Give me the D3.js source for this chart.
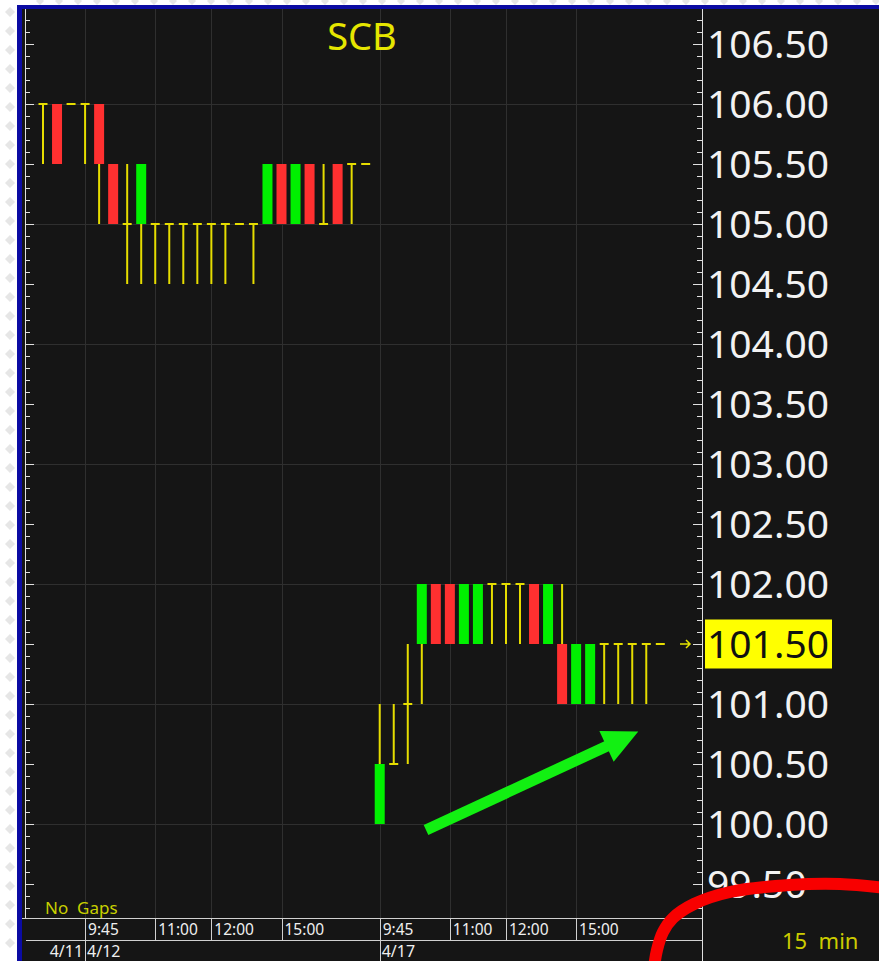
<!DOCTYPE html>
<html>
<head>
<meta charset="utf-8">
<script src="https://cdn.jsdelivr.net/npm/d3@7"></script>
<style>
html, body { margin: 0; padding: 0; background: #fff; }
svg { display: block; }
text { font-family: "Noto Sans", "Open Sans", sans-serif; }
</style>
</head>
<body>
<svg id="chart" width="879" height="961"></svg>
<script>
// sessions shown on the chart (15 min bars)
var days = ['4/11', '4/12', '4/17']
var times411 = ['16:00', '16:15', '16:30']
var times412 = ['9:45', '10:00', '10:15', '10:30', '10:45', '11:00', '11:15', '11:30', '11:45', '12:00', '12:15', '12:30',
    '14:30', '14:45', '15:00', '15:15', '15:30', '15:45', '16:00', '16:15', '16:30']
var times417 = ['9:45', '10:00', '10:15', '10:30', '10:45', '11:00', '11:15', '11:30', '11:45', '12:00', '12:15', '12:30',
    '14:30', '14:45', '15:00', '15:15', '15:30', '15:45', '16:00', '16:15', '16:30']
var timeLabels = ['9:45', '11:00', '12:00', '15:00']

var opens = [106, 106, 106, 106, 106, 105.5, 105, 105, 105, 105, 105, 105, 105, 105, 105, 105, 105, 105.5, 105, 105.5, 105, 105.5, 105.5, 105.5,
    100, 100.5, 101, 101.5, 102, 102, 101.5, 101.5, 102, 102, 102, 102, 101.5, 101.5, 101, 101, 101.5, 101.5, 101.5, 101.5, 101.5]
var highs = [106, 106, 106, 106, 106, 105.5, 105.5, 105.5, 105, 105, 105, 105, 105, 105, 105, 105, 105.5, 105.5, 105.5, 105.5, 105.5, 105.5, 105.5, 105.5,
    101, 101, 101.5, 102, 102, 102, 102, 102, 102, 102, 102, 102, 102, 102, 101.5, 101.5, 101.5, 101.5, 101.5, 101.5, 101.5]
var lows = [105.5, 105.5, 106, 105.5, 105, 105, 104.5, 104.5, 104.5, 104.5, 104.5, 104.5, 104.5, 104.5, 105, 104.5, 105, 105, 105, 105, 105, 105, 105, 105.5,
    100, 100.5, 100.5, 101, 101.5, 101.5, 101.5, 101.5, 101.5, 101.5, 101.5, 101.5, 101.5, 101, 101, 101, 101, 101, 101, 101, 101.5]
var closes = [106, 105.5, 106, 106, 105.5, 105, 105, 105.5, 105, 105, 105, 105, 105, 105, 105, 105, 105.5, 105, 105.5, 105, 105, 105, 105.5, 105.5,
    100.5, 100.5, 101, 102, 101.5, 101.5, 102, 102, 102, 102, 102, 101.5, 102, 101, 101.5, 101.5, 101.5, 101.5, 101.5, 101.5, 101.5]

var priceLabels = ['106.50', '106.00', '105.50', '105.00', '104.50', '104.00', '103.50', '103.00', '102.50', '102.00', '101.50', '101.00', '100.50', '100.00', '99.50']
var lastPrice = 101.5
var title = 'SCB'

var svg = d3.select('#chart')
var width = +svg.attr('width')
var height = +svg.attr('height')
var plot = { left: 25, right: 702, top: 9, bottom: 918 }

var sessions = [times411, times412, times417]
var bars = []
days.forEach(function (day, i) {
    sessions[i].forEach(function (t) {
        var n = bars.length
        bars.push({ key: day + ' ' + t, day: day, time: t, o: opens[n], h: highs[n], l: lows[n], c: closes[n] })
    })
})

var xscale = d3.scalePoint().domain(bars.map(d => d.key)).range([43, 660.3])
var yscale = d3.scaleLinear().domain([99.5, 106.5]).range([884, 44])

// frame: white page, diamonds, blue border, dark chart
svg.append('rect').attr('width', width).attr('height', height).attr('fill', '#fff')
var dg = svg.append('g').attr('fill', '#e6e6e6')
d3.range(12, height, 19).forEach(function (yy) {
    dg.append('path').attr('d', 'M10,' + (yy - 5) + 'L15,' + yy + 'L10,' + (yy + 5) + 'L5,' + yy + 'Z')
})
d3.range(40, width, 19).forEach(function (xx) {
    dg.append('path').attr('d', 'M' + xx + ',-3L' + (xx + 4) + ',1L' + xx + ',5L' + (xx - 4) + ',1Z')
})
svg.append('rect').attr('x', 17).attr('y', 5).attr('width', width - 17).attr('height', height - 5).attr('fill', '#0b0ba3')
svg.append('rect').attr('x', 22).attr('y', 9).attr('width', width - 22).attr('height', height - 9).attr('fill', '#151515')

// grid
var grid = svg.append('g').attr('stroke', '#2f2f2f').attr('stroke-width', 1)
grid.selectAll('line.h').data(yscale.ticks(7)).enter().append('line')
    .attr('x1', plot.left).attr('x2', plot.right)
    .attr('y1', d => Math.round(yscale(d)) + 0.5).attr('y2', d => Math.round(yscale(d)) + 0.5)
var tickBars = bars.filter(d => d.day !== days[0] && timeLabels.indexOf(d.time) >= 0)
grid.selectAll('line.v').data(tickBars).enter().append('line')
    .attr('x1', d => Math.round(xscale(d.key)) + 0.5).attr('x2', d => Math.round(xscale(d.key)) + 0.5)
    .attr('y1', plot.top).attr('y2', plot.bottom)

svg.append('text').text(title).attr('x', 362).attr('y', 50).attr('text-anchor', 'middle')
    .attr('font-size', 38).attr('fill', '#e6e600')

// side axes with 0.1 minor and 0.5 major ticks
var lo = yscale.invert(plot.bottom), hi = yscale.invert(plot.top)
var minor = d3.ticks(lo, hi, 76)
var major = d3.ticks(lo, hi, 15)
function tickAxis(axis, x, vals, size) {
    var g = svg.append('g').attr('transform', 'translate(' + x + ',0)')
        .call(axis(yscale).tickValues(vals).tickSize(size).tickFormat(''))
    g.select('.domain').remove()
    g.selectAll('line').attr('stroke', '#e0e0e0')
}
tickAxis(d3.axisRight, plot.left, minor, 5)
tickAxis(d3.axisRight, plot.left, major, 9)
tickAxis(d3.axisLeft, plot.right, minor, 5)
tickAxis(d3.axisLeft, plot.right, major, 9)
svg.append('line').attr('x1', plot.left + 0.5).attr('x2', plot.left + 0.5).attr('y1', plot.top).attr('y2', plot.bottom).attr('stroke', '#e0e0e0')
svg.append('line').attr('x1', plot.right + 0.5).attr('x2', plot.right + 0.5).attr('y1', plot.top).attr('y2', height).attr('stroke', '#e0e0e0')

svg.append('g').selectAll('text').data(priceLabels.filter(d => +d !== lastPrice)).enter().append('text')
    .attr('x', 707).attr('y', d => yscale(+d)).attr('dy', '0.36em')
    .attr('font-size', 39).attr('fill', '#f2f2f2').text(d => d)

// candles
var wickColor = '#e6dd00'
svg.append('g').selectAll('line').data(bars.filter(d => d.h > d.l)).enter().append('line')
    .attr('x1', d => xscale(d.key)).attr('x2', d => xscale(d.key))
    .attr('y1', d => yscale(d.h)).attr('y2', d => yscale(d.l))
    .attr('stroke', wickColor).attr('stroke-width', 2)
svg.append('g').selectAll('line').data(bars.filter(d => d.o === d.c)).enter().append('line')
    .attr('x1', d => xscale(d.key) - 4.5).attr('x2', d => xscale(d.key) + 4.5)
    .attr('y1', d => yscale(d.o)).attr('y2', d => yscale(d.o))
    .attr('stroke', wickColor).attr('stroke-width', 2)
svg.append('g').selectAll('rect').data(bars.filter(d => d.o !== d.c)).enter().append('rect')
    .attr('x', d => xscale(d.key) - 5).attr('width', 10)
    .attr('y', d => yscale(Math.max(d.o, d.c)))
    .attr('height', d => yscale(Math.min(d.o, d.c)) - yscale(Math.max(d.o, d.c)))
    .attr('fill', d => d.c > d.o ? '#00f000' : '#ff3030')

// last price marker
var ly = yscale(lastPrice)
svg.append('path').attr('d', 'M680,' + ly + 'H690M686,' + (ly - 4) + 'L690,' + ly + 'L686,' + (ly + 4))
    .attr('stroke', '#e6e600').attr('stroke-width', 1.5).attr('fill', 'none')
svg.append('rect').attr('x', 705).attr('y', ly - 24.5).attr('width', 127).attr('height', 49).attr('fill', '#ffff00')
svg.append('text').text(d3.format('.2f')(lastPrice)).attr('x', 707).attr('y', ly).attr('dy', '0.36em')
    .attr('font-size', 39).attr('fill', '#111')

svg.append('text').text('No  Gaps').style('white-space', 'pre').attr('x', 45).attr('y', 914)
    .attr('font-size', 17).attr('fill', '#c8d000')

// time axis rows
var axisColor = '#d0d0d0'
svg.append('line').attr('x1', 22).attr('x2', plot.right).attr('y1', 918.5).attr('y2', 918.5).attr('stroke', axisColor)
svg.append('line').attr('x1', 26).attr('x2', plot.right).attr('y1', 940.5).attr('y2', 940.5).attr('stroke', axisColor)
var firstOfDay = days.slice(1).map(day => bars.find(d => d.day === day))
svg.append('g').selectAll('line').data(tickBars).enter().append('line')
    .attr('x1', d => Math.round(xscale(d.key)) + 0.5).attr('x2', d => Math.round(xscale(d.key)) + 0.5)
    .attr('y1', 918).attr('y2', d => firstOfDay.indexOf(d) >= 0 ? height : 941)
    .attr('stroke', axisColor)
svg.append('g').selectAll('text').data(tickBars).enter().append('text')
    .attr('x', d => xscale(d.key) + 3).attr('y', 935)
    .attr('font-size', 15.5).attr('fill', '#efefef').text(d => d.time)
svg.append('text').text(days[0]).attr('x', xscale(firstOfDay[0].key) - 2).attr('y', 957)
    .attr('text-anchor', 'end').attr('font-size', 16).attr('fill', '#efefef')
svg.append('g').selectAll('text').data(firstOfDay).enter().append('text')
    .attr('x', d => xscale(d.key) + 2).attr('y', 957)
    .attr('font-size', 16).attr('fill', '#efefef').text(d => d.day)

svg.append('text').text('15  min').style('white-space', 'pre').attr('x', 782).attr('y', 949)
    .attr('font-size', 22).attr('fill', '#cccc00')

// annotations: green arrow and red circle
var tail = [xscale.step() * 27.3 + 43, yscale(99.95)]
var tip = [xscale.step() * 42.43 + 43, yscale(100.77)]
var dx = tip[0] - tail[0], dy = tip[1] - tail[1], len = Math.sqrt(dx * dx + dy * dy)
var ux = dx / len, uy = dy / len
var headLen = 35, headHalf = 17
var base = [tip[0] - ux * headLen, tip[1] - uy * headLen]
svg.append('line').attr('x1', tail[0]).attr('y1', tail[1]).attr('x2', base[0] + ux * 2).attr('y2', base[1] + uy * 2)
    .attr('stroke', '#12f012').attr('stroke-width', 11)
svg.append('path').attr('fill', '#12f012')
    .attr('d', 'M' + tip[0] + ',' + tip[1] + 'L' + (base[0] - uy * headHalf) + ',' + (base[1] + ux * headHalf) +
        'L' + (base[0] + uy * headHalf) + ',' + (base[1] - ux * headHalf) + 'Z')

var ring = [[653, 975], [657, 950], [663, 932], [673, 918], [694, 904], [730, 892], [790, 885], [840, 884], [885, 888]]
svg.append('path').attr('d', d3.line().curve(d3.curveCatmullRom)(ring))
    .attr('fill', 'none').attr('stroke', '#f80000').attr('stroke-width', 12).attr('stroke-linecap', 'round')
</script>
</body>
</html>
